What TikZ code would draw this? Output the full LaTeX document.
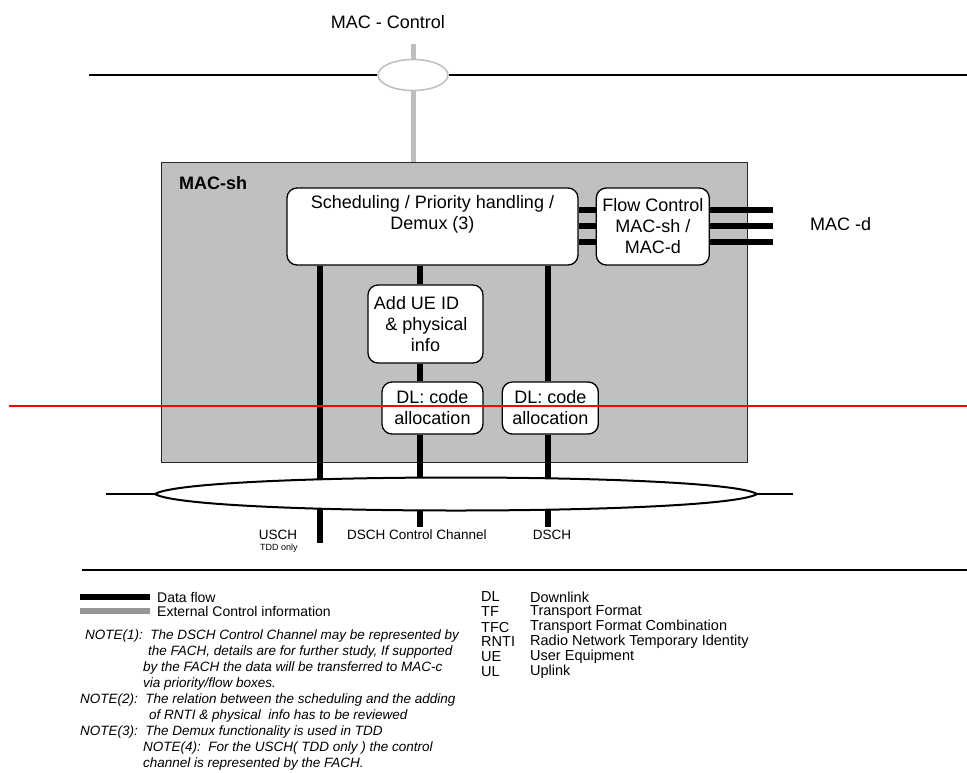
\documentclass[tikz,border=0pt]{standalone}
\usepackage{fontspec}
\setmainfont{Liberation Sans}
\usetikzlibrary{positioning,shapes.geometric}
\definecolor{shgray}{RGB}{192,192,192}
\definecolor{ctlgray}{RGB}{190,190,190}
\definecolor{lggray}{RGB}{150,150,150}
\definecolor{boxedge}{RGB}{40,40,40}

\begin{document}
\begin{tikzpicture}[x=1pt,y=-1pt,
fnbox/.style={draw,line width=1.3pt,rounded corners=10pt,fill=white,align=center,inner sep=0pt,font=\fontsize{18}{21}\selectfont},
data/.style={line width=5.5pt},
ctrl/.style={line width=5pt,draw=ctlgray},
bus/.style={line width=2pt},
lbl/.style={font=\fontsize{18}{21}\selectfont},
small/.style={font=\fontsize{13.5}{15}\selectfont,inner sep=0pt},
legtxt/.style={font=\fontsize{14}{15}\selectfont,inner sep=0pt,anchor=west},
abtxt/.style={font=\fontsize{14.5}{15}\selectfont,inner sep=0pt,anchor=west},
note/.style={font=\fontsize{13.5}{15}\selectfont\itshape,anchor=west,inner sep=0pt},
node distance=17pt and 17pt]
\useasboundingbox (0,0) rectangle (967,772);

% MAC-Control access point
\node[lbl] (ctltxt) at (388,22) {MAC - Control};
\node[ellipse,draw=ctlgray,line width=1.5pt,fill=white,minimum width=70pt,minimum height=31pt] (ctlsap) at (413,75) {};
\coordinate (busw) at (89,75);
\coordinate (buse) at (968,75);
\coordinate (ctltop) at (413,44);
\draw[bus] (busw) -- (ctlsap.west);
\draw[bus] (ctlsap.east) -- (buse);

% MAC-sh entity
\node[draw=boxedge,line width=1.2pt,fill=shgray,minimum width=586pt,minimum height=300pt,anchor=north west,inner sep=0pt] (macsh) at (161,162) {};
\node[lbl,font=\fontsize{18}{21}\selectfont\bfseries,anchor=west,inner sep=0pt] (shtxt) at (179,183) {MAC-sh};
\draw[ctrl] (ctltop) -- (ctlsap.north);
\draw[ctrl] (ctlsap.south) -- (ctlsap.south |- macsh.north);

\node[fnbox,minimum width=291pt,minimum height=77pt] (sched) at (432.5,226.5) {Scheduling / Priority handling /\\Demux (3)\\\strut};
\node[fnbox,minimum width=113pt,minimum height=77pt,right=17pt of sched] (flow) {Flow Control\\MAC-sh /\\MAC-d};
\node[fnbox,minimum width=115pt,minimum height=78pt] (addue) at (425.5,324) {Add UE ID\hspace*{18pt}\\\hspace*{2pt}\& physical\\info};
\node[fnbox,minimum width=101pt,minimum height=52pt] (dlone) at (432.5,408) {DL: code\\allocation};
\node[fnbox,minimum width=96pt,minimum height=52pt,right=18pt of dlone] (dltwo) {DL: code\\allocation};

% MAC-d side
\node[lbl,anchor=west,inner sep=0pt] (macd) at (810,224) {MAC -d};
\coordinate (dend) at (773,226);
\foreach \y in {210,226,242} {
  \draw[data] (sched.east |- 0,\y) -- (flow.west |- 0,\y);
  \draw[data] (flow.east |- 0,\y) -- (dend |- 0,\y);
}

% transport channels
\coordinate (uschend) at (320,543);
\coordinate (ctlend) at (420,527);
\coordinate (dschend) at (548,527);
\draw[data] (sched.south -| uschend) -- (uschend);
\draw[data] (sched.south -| ctlend) -- (addue.north -| ctlend);
\draw[data] (addue.south -| ctlend) -- (dlone.north -| ctlend);
\draw[data] (dlone.south -| ctlend) -- (ctlend);
\draw[data] (sched.south -| dschend) -- (dltwo.north -| dschend);
\draw[data] (dltwo.south -| dschend) -- (dschend);

\coordinate (trw) at (106,494);
\coordinate (tre) at (793,494);
\draw[bus,fill=white] (155,494) coordinate (lensw) .. controls (190,472) and (722,472) .. (757,494) coordinate (lense) .. controls (722,516) and (190,516) .. (lensw) -- cycle;
\draw[bus] (trw) -- (lensw);
\draw[bus] (lense) -- (tre);

\node[small] (uschtxt) at (278,535) {USCH};
\node[inner sep=0pt,font=\fontsize{9}{10}\selectfont] (tddtxt) at (279,548) {TDD only};
\node[small] (ctltxtb) at (417,535) {DSCH Control Channel};
\node[small] (dschtxt) at (552,535) {DSCH};

% legend
\draw[line width=1.5pt] (82,570) -- (968,570);
\node[legtxt] (lgdata) at (157,597) {Data flow};
\node[legtxt] (lgctrl) at (157,611) {External Control information};
\coordinate (lgdatas) at (80,597);
\coordinate (lgctrls) at (80,611);
\draw[data] (lgdatas) -- ([xshift=-7pt]lgdata.west);
\draw[data,draw=lggray] (lgctrls) -- ([xshift=-7pt]lgctrl.west);

\foreach \ab/\full [count=\i] in {DL/Downlink,TF/Transport Format,TFC/Transport Format Combination,RNTI/Radio Network Temporary Identity,UE/User Equipment,UL/Uplink} {
  \node[abtxt] (ab\i) at (481,582+15*\i) {\ab};
  \node[abtxt] (full\i) at (530,582+15*\i) {\full};
}

% notes
\node[note] (nta) at (85,636) {NOTE(1):\ \ The DSCH Control Channel may be represented by};
\node[note] (ntb) at (148,652) {the FACH, details are for further study, If supported};
\node[note] (ntc) at (143,668) {by the FACH the data will be transferred to MAC-c};
\node[note] (ntd) at (143,684) {via priority/flow boxes.};
\node[note] (nte) at (80,700) {NOTE(2):\ \ The relation between the scheduling and the adding};
\node[note] (ntf) at (149,716) {of RNTI \& physical\ \ info has to be reviewed};
\node[note] (ntg) at (80,732) {NOTE(3):\ \ The Demux functionality is used in TDD};
\node[note] (nth) at (143,748) {NOTE(4):\ \ For the USCH( TDD only ) the control};
\node[note] (nti) at (143,764) {channel is represented by the FACH.};

\draw[red,line width=2pt] (9,406) -- (967,406);
\end{tikzpicture}
\end{document}
